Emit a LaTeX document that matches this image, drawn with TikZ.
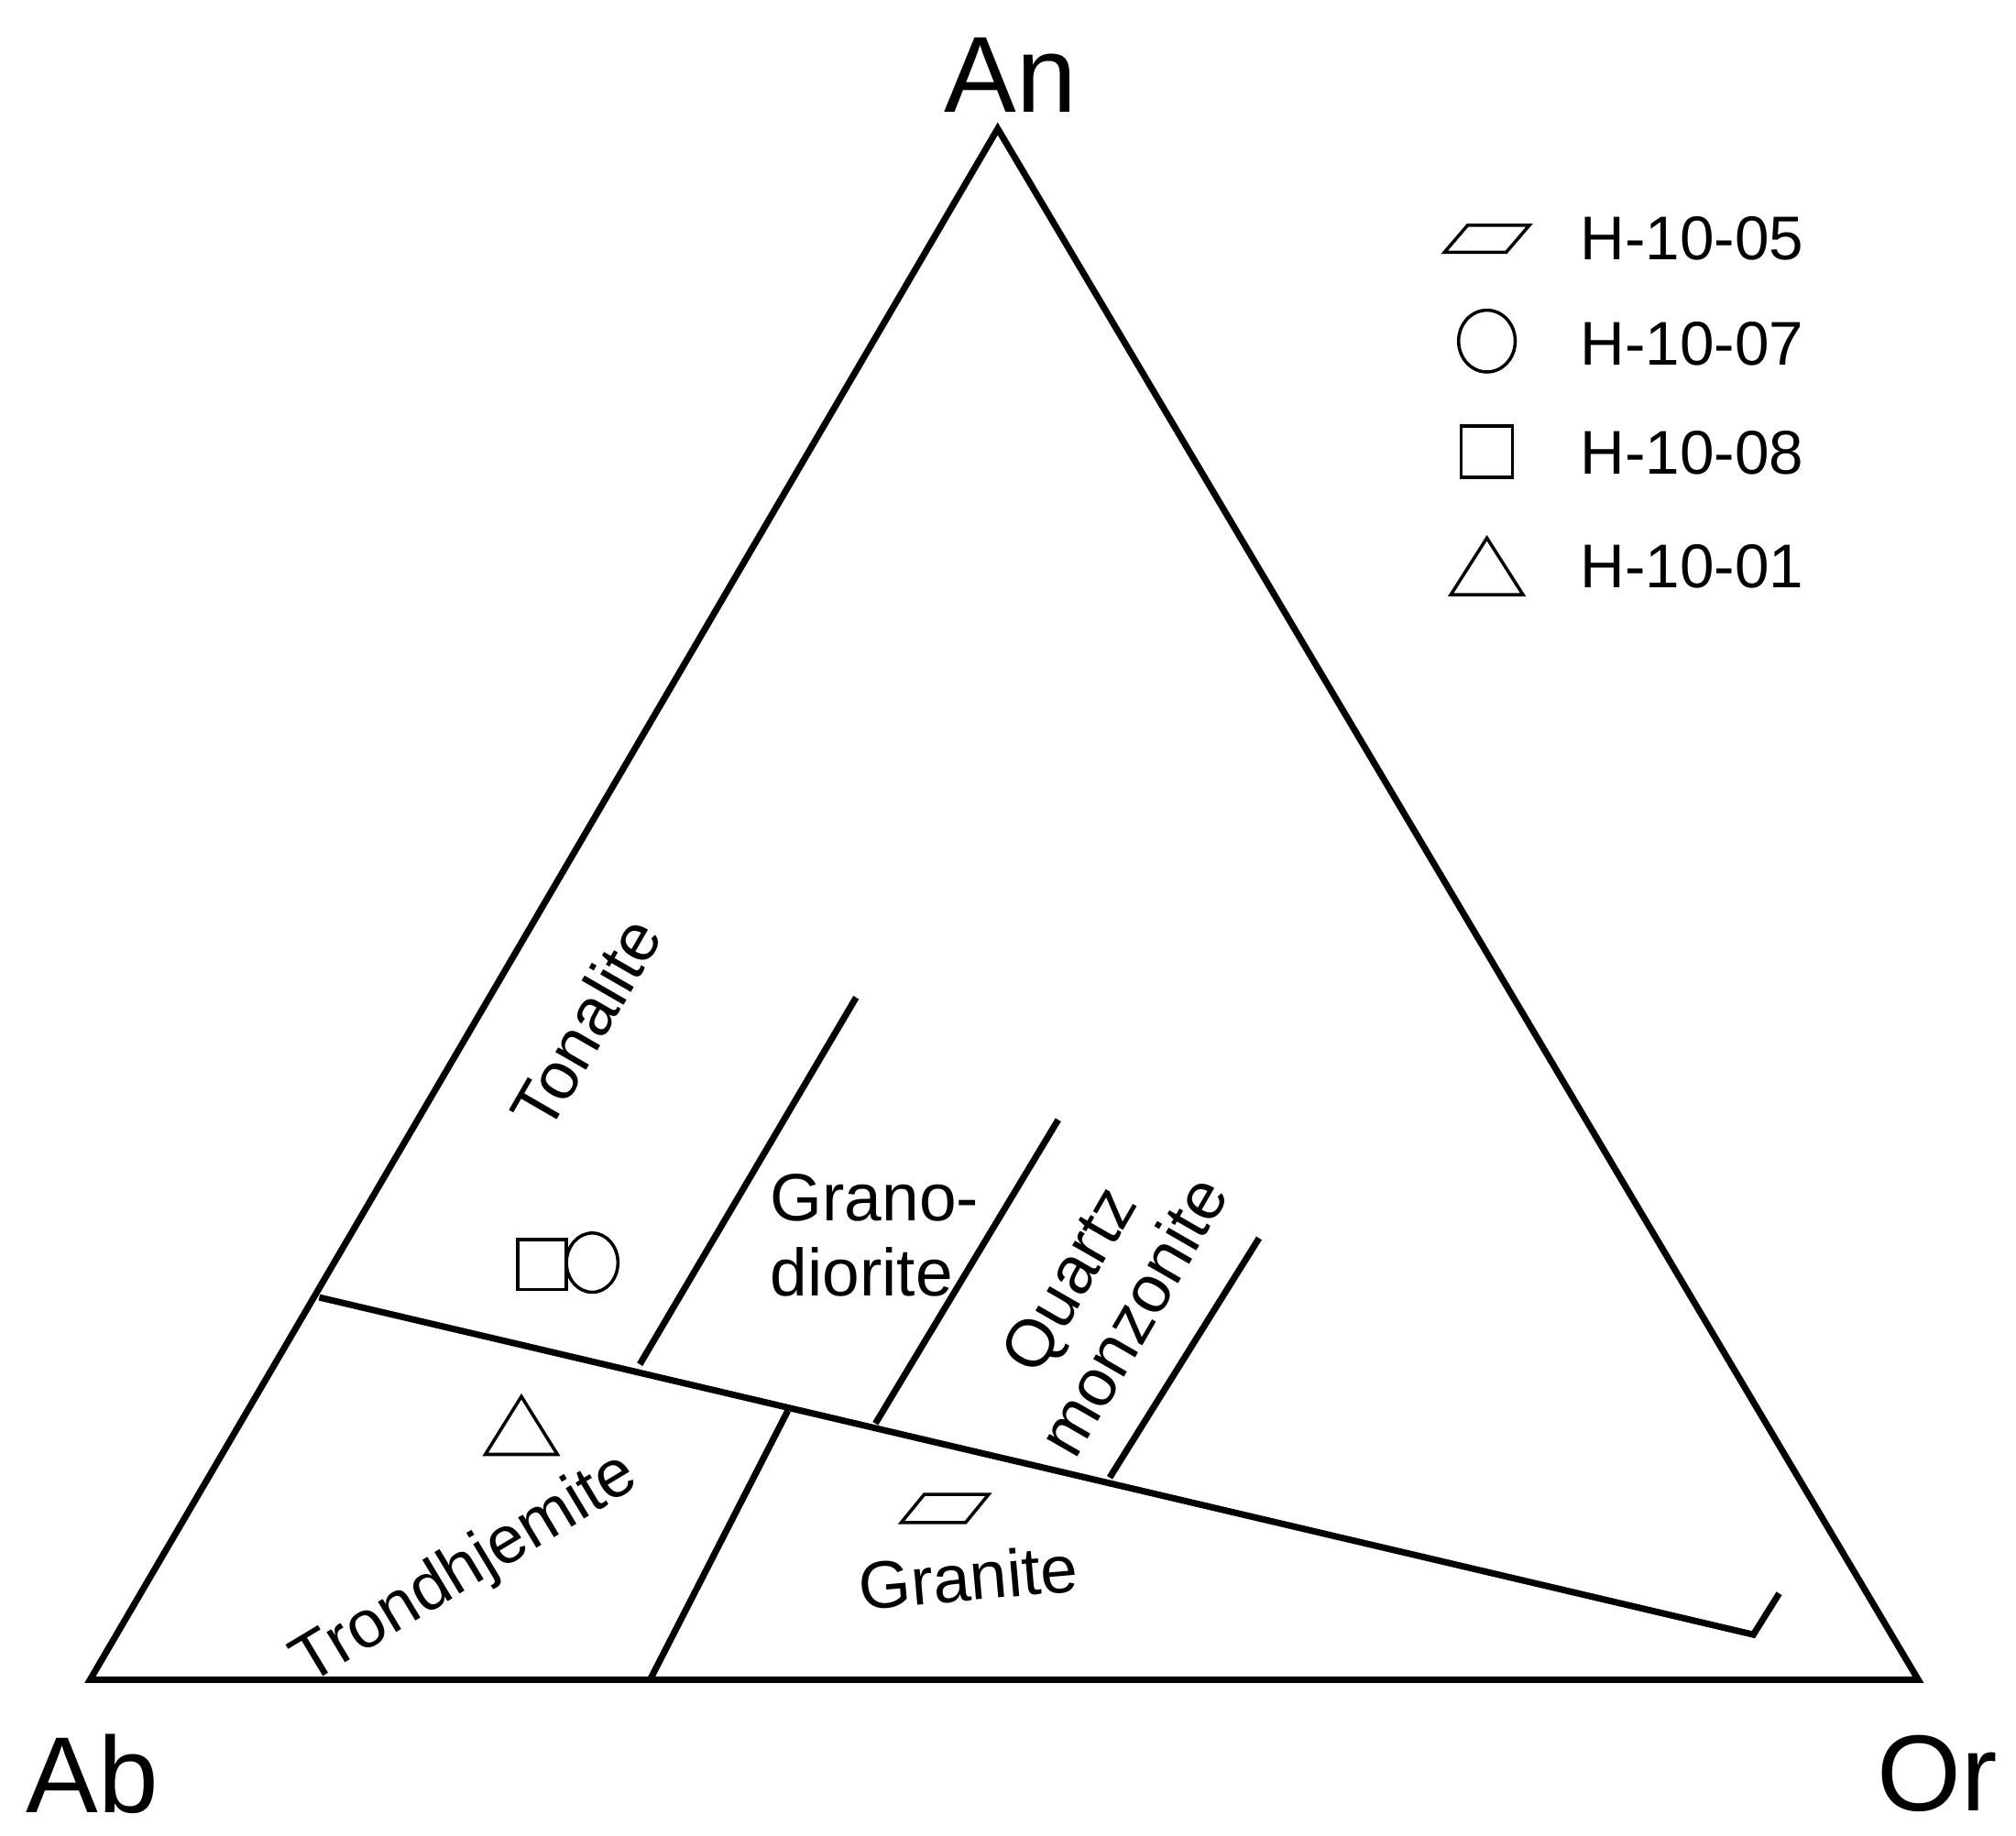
\documentclass[tikz,border=0pt]{standalone}
\usepackage{fontspec}
\setmainfont{Liberation Sans}
\begin{document}
\begin{tikzpicture}[x=1pt,y=-1pt,line width=5pt,
  lab/.style={font=\fontsize{52}{58}\selectfont,inner sep=0pt},
  leg/.style={font=\fontsize{48}{56}\selectfont,inner sep=0pt},
  vlab/.style={font=\fontsize{84}{90}\selectfont,inner sep=0pt},
  sym/.style={line width=2.5pt}]
\useasboundingbox (0,0) rectangle (1566,1426);
\coordinate (Ab) at (70,1305);
\coordinate (Or) at (1490,1305);
\coordinate (An) at (775,100);
\draw[line join=miter] (Ab) -- (An) -- (Or) -- cycle;
\coordinate (L1) at (248,1008);
\coordinate (L2) at (1362,1270);
\coordinate (L3) at (1382,1238);
\draw (L1) -- (L2) -- (L3);
\coordinate (a1) at (505,1305); \coordinate (a2) at (612,1096);
\coordinate (b1) at (497,1060); \coordinate (b2) at (665,775);
\coordinate (c1) at (680,1106); \coordinate (c2) at (822,870);
\coordinate (d1) at (862,1148); \coordinate (d2) at (978,962);
\draw (a1)--(a2); \draw (b1)--(b2); \draw (c1)--(c2); \draw (d1)--(d2);
\node[vlab] (tAn) at (785,58) {An};
\node[vlab] (tAb) at (72,1378) {Ab};
\node[vlab] (tOr) at (1505,1378) {Or};
\node[lab,rotate=60] (ton) at (455,795) {Tonalite};
\node[lab,align=left,anchor=north west] (grd) at (596,910) {Grano-\\diorite};
\node[lab,rotate=60,align=center] (qm) at (855,1008) {Quartz\\monzonite};
\node[lab,rotate=31] (tro) at (362,1220) {Trondhjemite};
\node[lab,rotate=5] (gra) at (752,1225) {Granite};
% samples
\draw[sym] (402,963) rectangle (440,1002);
\draw[sym] (460,981) ellipse (20 and 23);
\draw[sym] (377,1130) -- (405,1085) -- (433,1130) -- cycle;
\draw[sym] (700,1183) -- (718,1161) -- (768,1161) -- (750,1183) -- cycle;
% legend
\draw[sym] (1122,196) -- (1140,175) -- (1188,175) -- (1170,196) -- cycle;
\draw[sym] (1155,265) ellipse (22 and 24);
\draw[sym] (1135,331) rectangle (1175,371);
\draw[sym] (1127,462) -- (1155,418) -- (1183,462) -- cycle;
\node[leg,anchor=west] (l1) at (1225,185) {H-10-05};
\node[leg,anchor=west] (l2) at (1225,267) {H-10-07};
\node[leg,anchor=west] (l3) at (1225,352) {H-10-08};
\node[leg,anchor=west] (l4) at (1225,440) {H-10-01};
\end{tikzpicture}
\end{document}
